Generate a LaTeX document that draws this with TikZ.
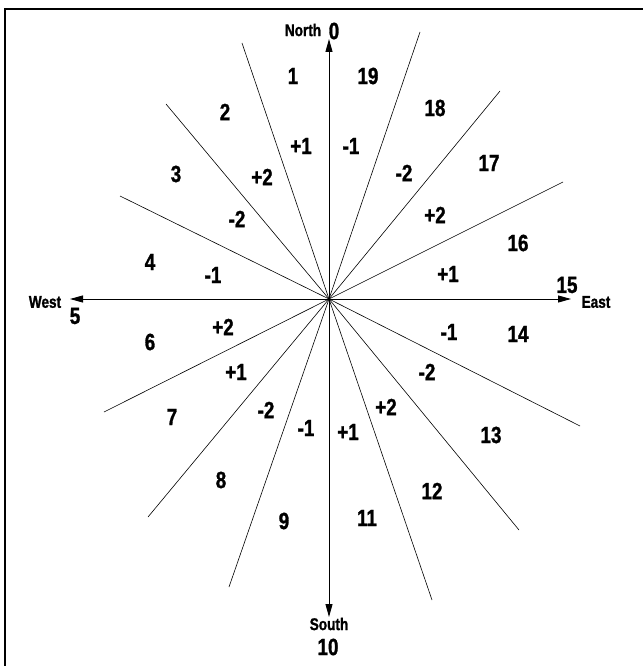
\documentclass[tikz,border=0pt]{standalone}
\usepackage{fontspec}
\newfontfamily\lab{Liberation Sans}[FakeStretch=0.8,BoldFeatures={FakeBold=1.2}]
\usetikzlibrary{arrows.meta}
\begin{document}
\begin{tikzpicture}[x=1pt,y=-1pt,
  num/.style={font=\lab\bfseries\fontsize{23.5}{23.5}\selectfont, inner sep=0pt},
  dirlab/.style={font=\lab\bfseries\fontsize{17}{17}\selectfont, inner sep=0pt},
  ray/.style={line width=0.6pt},
  axis/.style={line width=0.9pt, -{Triangle[length=13pt,width=7pt]}},
  frame/.style={line width=2pt}]
\useasboundingbox (0,0) rectangle (643,666);
\draw[frame] (4.5,666) -- (4.5,9.5) -- (643,9.5);
\coordinate (c) at (329,299);
% ray end points
\coordinate (r1) at (242,43);
\coordinate (r2) at (166,104);
\coordinate (r3) at (120,196);
\coordinate (r4) at (104,412);
\coordinate (r5) at (148,517);
\coordinate (r6) at (229,587);
\coordinate (r7) at (432,600);
\coordinate (r8) at (519,530);
\coordinate (r9) at (580,426);
\coordinate (r10) at (563,182);
\coordinate (r11) at (500,91);
\coordinate (r12) at (420,32);
\foreach \i in {1,...,12} \draw[ray] (c) -- (r\i);
% axes
\coordinate (aN) at (329,39);
\coordinate (aS) at (329,617);
\coordinate (aW) at (70,299);
\coordinate (aE) at (571,299);
\draw[axis] (c) -- (aN);
\draw[axis] (c) -- (aS);
\draw[axis] (c) -- (aW);
\draw[axis] (c) -- (aE);
% direction labels
\node[dirlab] (north) at (303,30) {North};
\node[dirlab] (west) at (45,302) {West};
\node[dirlab] (east) at (596,302) {East};
\node[dirlab] (south) at (329,624) {South};
% sector numbers
\node[num] (s0) at (334,31) {0};
\node[num] (s1) at (293,76) {1};
\node[num] (s2) at (225,112) {2};
\node[num] (s3) at (176,174) {3};
\node[num] (s4) at (150,262) {4};
\node[num] (s5) at (75,316) {5};
\node[num] (s6) at (150,342) {6};
\node[num] (s7) at (172,417) {7};
\node[num] (s8) at (221,480) {8};
\node[num] (s9) at (284,521) {9};
\node[num] (s10) at (328,647) {10};
\node[num] (s11) at (367,518) {11};
\node[num] (s12) at (432,491) {12};
\node[num] (s13) at (491,435) {13};
\node[num] (s14) at (518,334) {14};
\node[num] (s15) at (567,285) {15};
\node[num] (s16) at (518,243) {16};
\node[num] (s17) at (489,163) {17};
\node[num] (s18) at (435,108) {18};
\node[num] (s19) at (368,76) {19};
% offsets
\node[num] (o1) at (301,146) {+1};
\node[num] (o2) at (351,146) {-1};
\node[num] (o3) at (262,177) {+2};
\node[num] (o4) at (404,173) {-2};
\node[num] (o5) at (237,219) {-2};
\node[num] (o6) at (435,215) {+2};
\node[num] (o7) at (213,275) {-1};
\node[num] (o8) at (448,274) {+1};
\node[num] (o9) at (223,327) {+2};
\node[num] (o10) at (449,332) {-1};
\node[num] (o11) at (236,372) {+1};
\node[num] (o12) at (427,372) {-2};
\node[num] (o13) at (266,410) {-2};
\node[num] (o14) at (386,407) {+2};
\node[num] (o15) at (306,428) {-1};
\node[num] (o16) at (348,432) {+1};
\end{tikzpicture}
\end{document}
